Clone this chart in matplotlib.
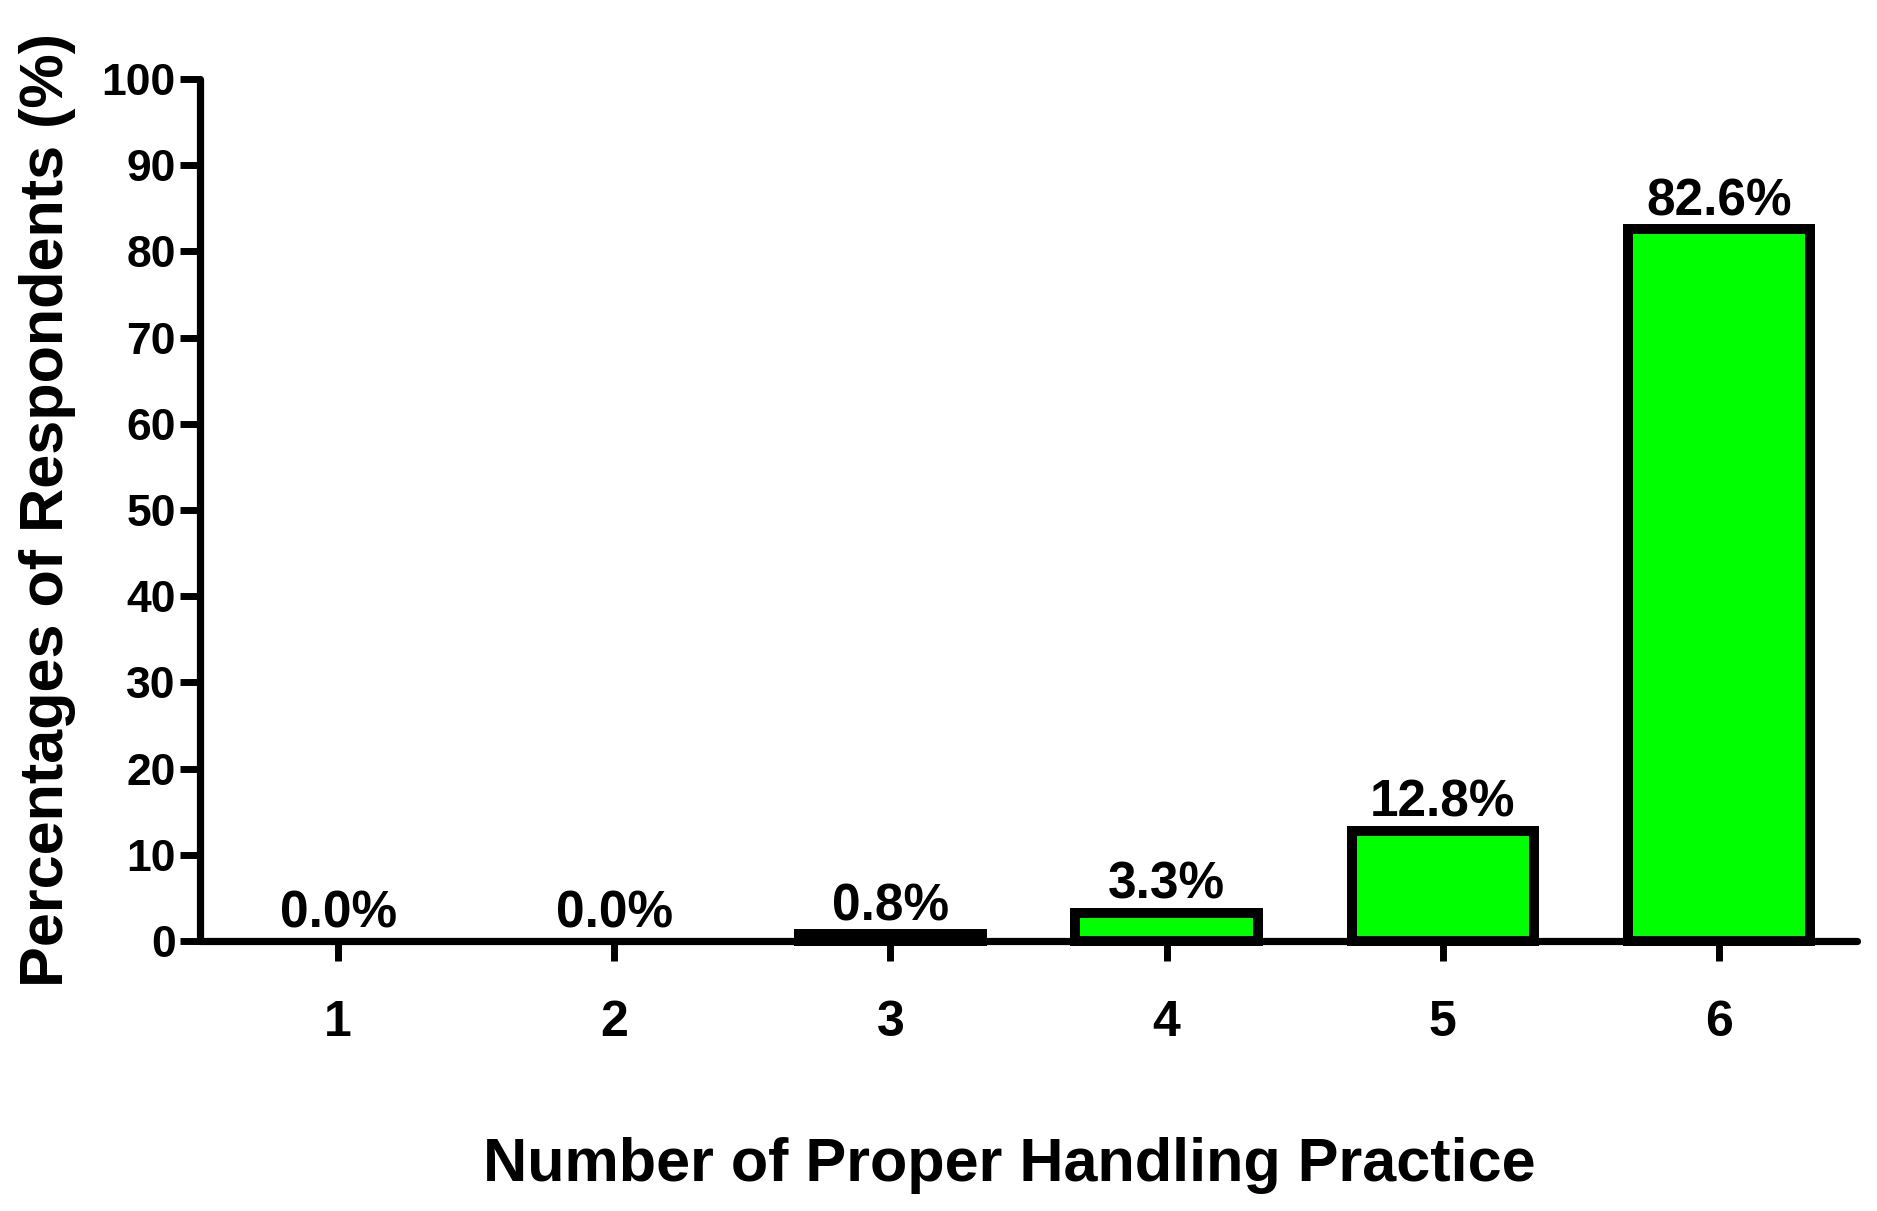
import matplotlib
matplotlib.use("Agg")
import matplotlib.pyplot as plt

categories = ["1", "2", "3", "4", "5", "6"]
values = [0.0, 0.0, 0.8, 3.3, 12.8, 82.6]
value_labels = ["0.0%", "0.0%", "0.8%", "3.3%", "12.8%", "82.6%"]
yticks = [0, 10, 20, 30, 40, 50, 60, 70, 80, 90, 100]

plt.rcParams['font.family'] = ['Liberation Sans', 'DejaVu Sans']
plt.rcParams['font.weight'] = 'bold'

W, H = 1877, 1211
fig = plt.figure(figsize=(W / 100, H / 100), dpi=100)
ax = fig.add_axes([200 / W, 1 - 941 / H, (1857 - 200) / W, (941 - 79) / H])

x = list(range(1, len(categories) + 1))
bars = ax.bar(x, values, width=0.66, color="#00FF00", edgecolor="black",
              linewidth=7.2, clip_on=False, zorder=3)
# zero-height bars show no outline in the original
for b, v in zip(bars, values):
    if v == 0:
        b.set_linewidth(0)

for xi, v, lab in zip(x, values, value_labels):
    ax.annotate(lab, xy=(xi, v), xytext=(0, 10), textcoords="offset points",
                ha="center", va="baseline", fontsize=37, fontweight="bold",
                zorder=4)

ax.set_xlim(0.5, 6.5)
ax.set_ylim(0, 100)
ax.set_xticks(x)
ax.set_xticklabels(categories)
ax.set_yticks(yticks)
ax.set_yticklabels([str(t) for t in yticks])

for s in ["top", "right"]:
    ax.spines[s].set_visible(False)
for s in ["left", "bottom"]:
    ax.spines[s].set_linewidth(5.2)
    ax.spines[s].set_capstyle("round")
    ax.spines[s].set_zorder(5)

ax.tick_params(axis="both", direction="out", length=14.4, width=5.0, color="black")
ax.tick_params(axis="y", labelsize=32, pad=3)
ax.tick_params(axis="x", labelsize=36, pad=28)
for t in ax.get_xticklabels() + ax.get_yticklabels():
    t.set_fontweight("bold")

fig.text(1009 / W, 1 - 1166 / H, "Number of Proper Handling Practice",
         ha="center", va="center", fontsize=44, fontweight="bold")
fig.text(48 / W, 1 - 510 / H, "Percentages of Respondents (%)",
         ha="center", va="center", rotation=90, fontsize=44, fontweight="bold")

fig.savefig("out.png", dpi=100, facecolor="white")
